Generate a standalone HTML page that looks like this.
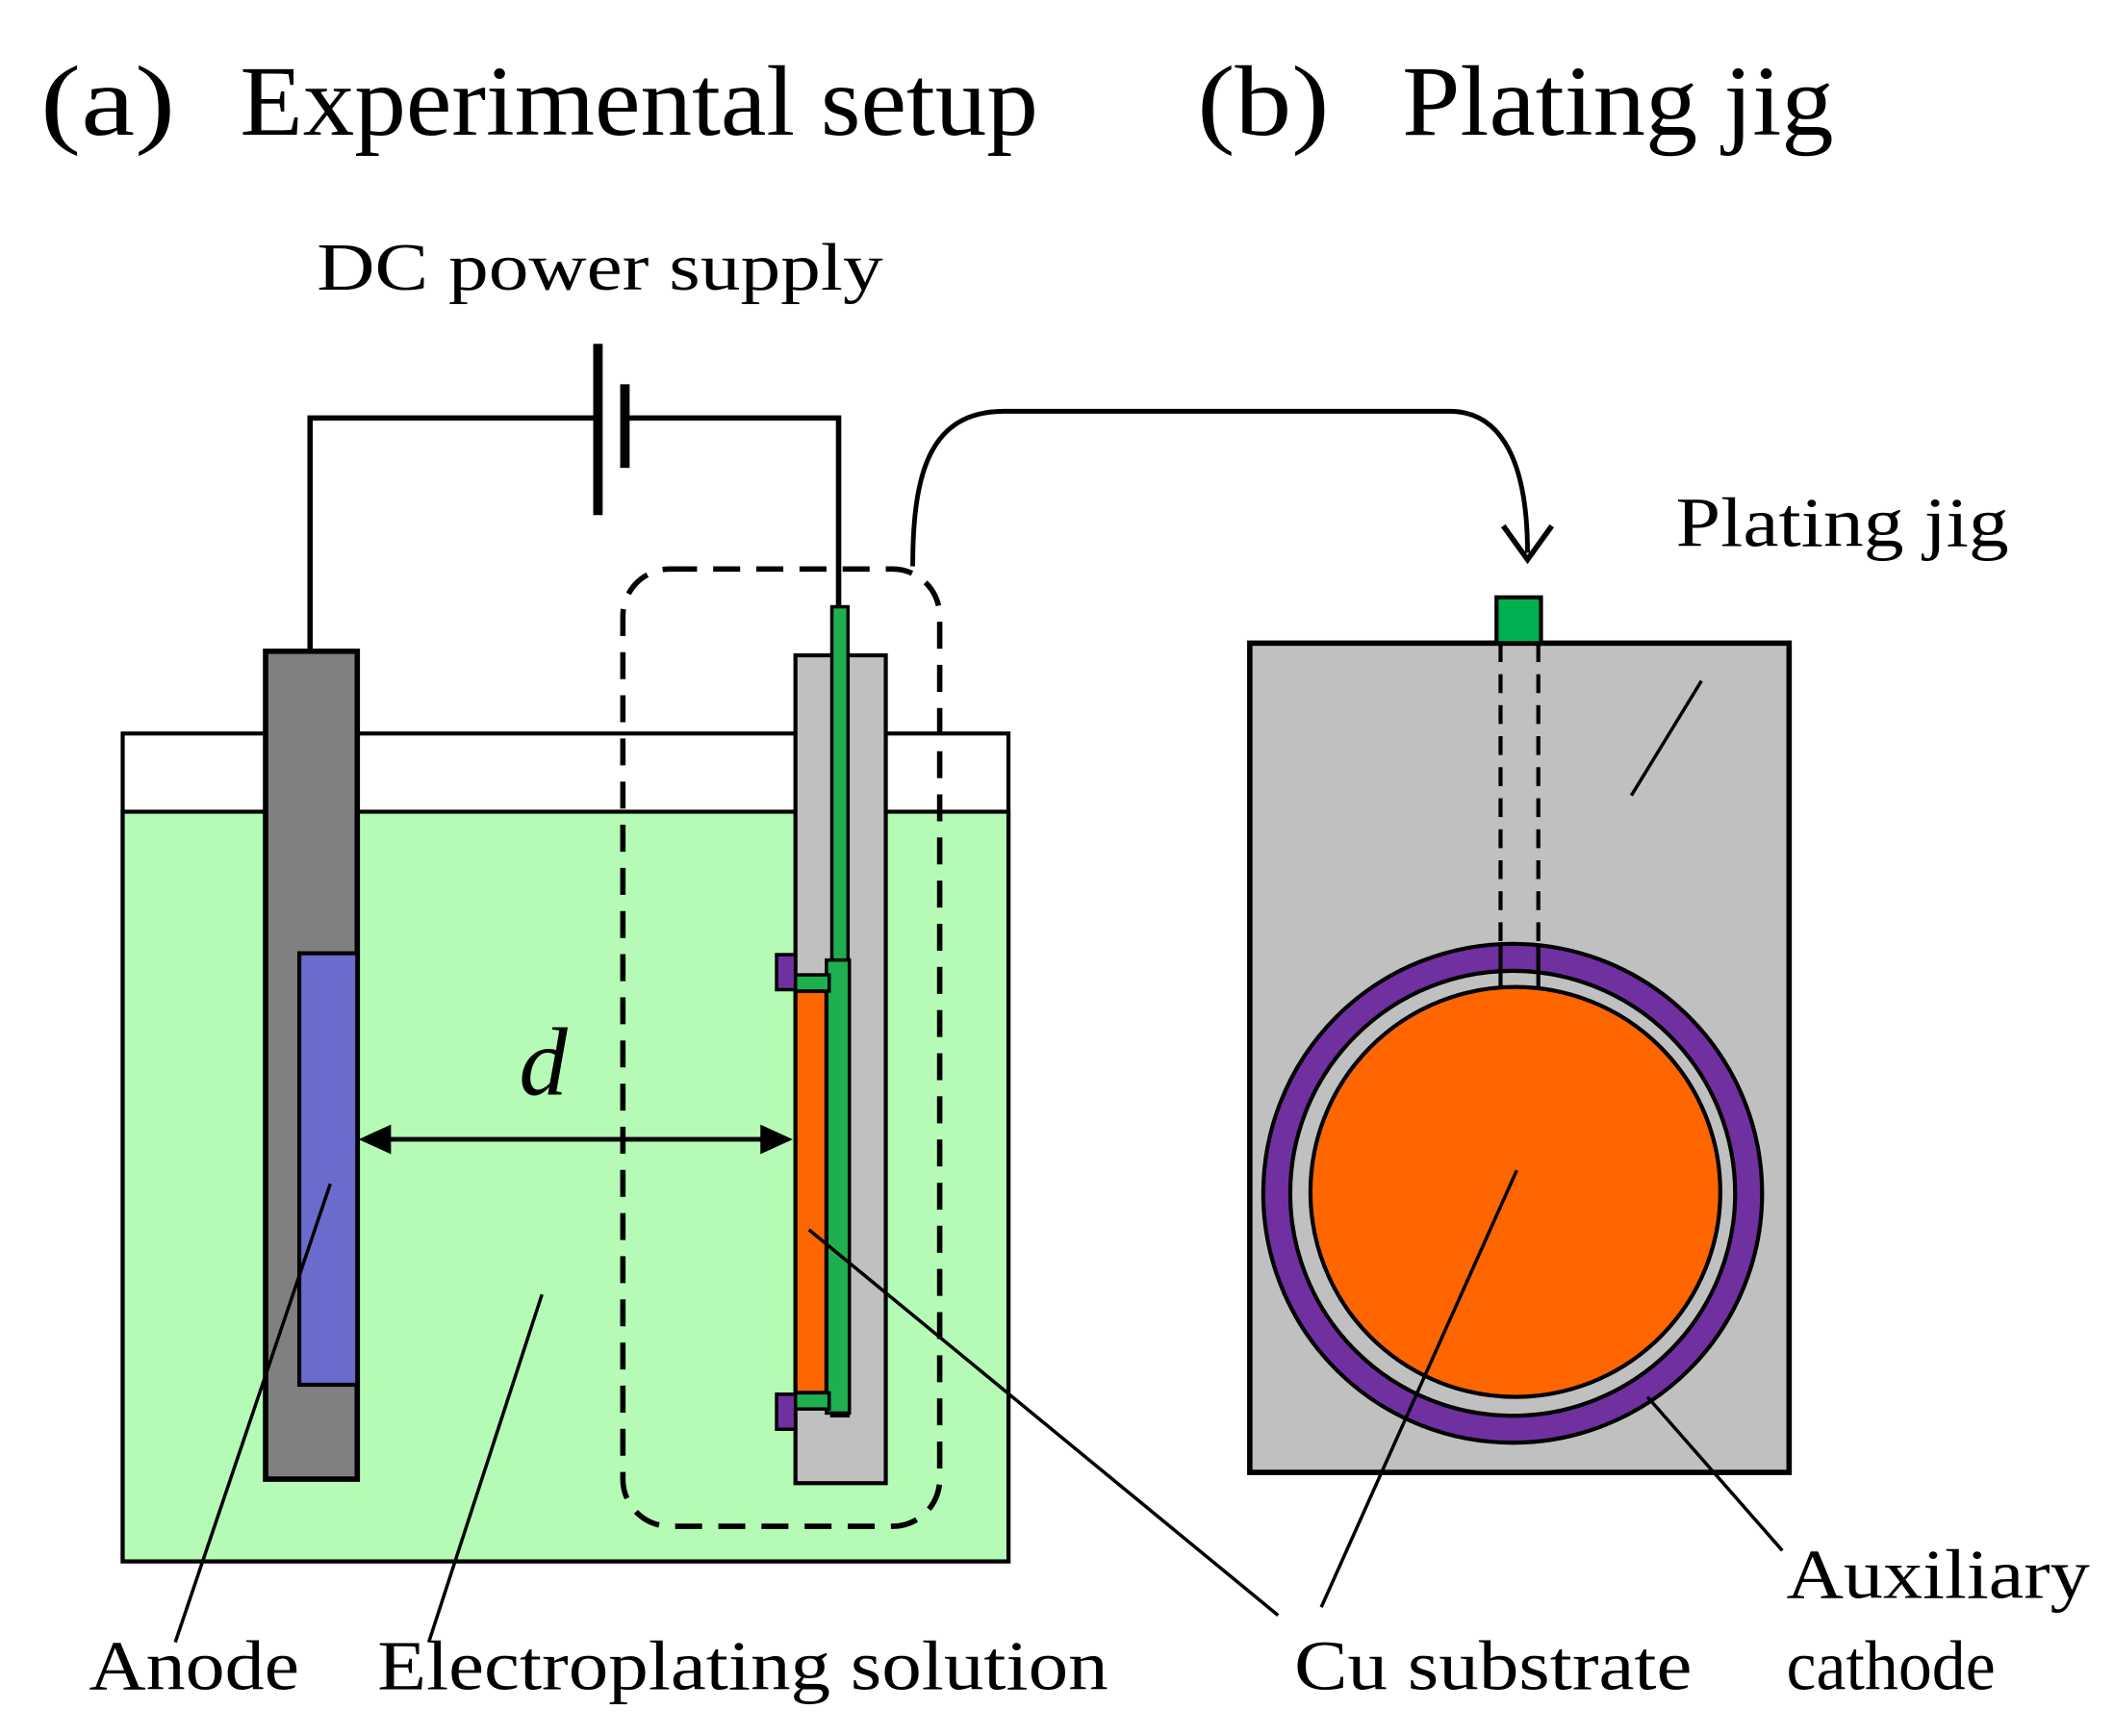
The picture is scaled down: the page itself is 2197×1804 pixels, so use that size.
<!DOCTYPE html>
<html><head><meta charset="utf-8"><style>html,body{margin:0;padding:0;background:#fff}svg{display:block}</style></head>
<body>
<svg width="2197" height="1804" viewBox="0 0 1568 1287.5" xmlns="http://www.w3.org/2000/svg" font-family="Liberation Serif, serif">
<rect width="1568" height="1288" fill="#fff"/>
<text x="30" y="100" font-size="74" textLength="100" lengthAdjust="spacingAndGlyphs">(a)</text>
<text x="178" y="100" font-size="74" textLength="592" lengthAdjust="spacingAndGlyphs">Experimental setup</text>
<text x="888" y="100" font-size="74" textLength="98" lengthAdjust="spacingAndGlyphs">(b)</text>
<text x="1040" y="100" font-size="74" textLength="320" lengthAdjust="spacingAndGlyphs">Plating jig</text>
<text x="235" y="215" font-size="50" textLength="420" lengthAdjust="spacingAndGlyphs">DC power supply</text>
<g stroke="#000" stroke-width="4" fill="none">
<polyline points="230,485 230,310 443,310"/>
<polyline points="463,310 622,310 622,452"/>
</g>
<rect x="440" y="255" width="7" height="127" fill="#000"/>
<rect x="460" y="285" width="7" height="62" fill="#000"/>
<rect x="91" y="544" width="657" height="614" fill="#fff" stroke="#000" stroke-width="3"/>
<rect x="91" y="602" width="657" height="556" fill="#b5fbb5" stroke="#000" stroke-width="3"/>
<rect x="197" y="483" width="68" height="614" fill="#808080" stroke="#000" stroke-width="4"/>
<rect x="222" y="707" width="43" height="320" fill="#6b6bcc" stroke="#000" stroke-width="3"/>
<rect x="590" y="486" width="67" height="614" fill="#c0c0c0" stroke="#000" stroke-width="3"/>
<rect x="617" y="450" width="12" height="600" fill="#1fae50" stroke="#000" stroke-width="2.5"/>
<rect x="613" y="712" width="17" height="336" fill="#1fae50" stroke="#000" stroke-width="2.5"/>
<rect x="590" y="735" width="23" height="298" fill="#ff6600" stroke="#000" stroke-width="3"/>
<rect x="590" y="723" width="25" height="12" fill="#1fae50" stroke="#000" stroke-width="2.5"/>
<rect x="590" y="1033" width="25" height="12" fill="#1fae50" stroke="#000" stroke-width="2.5"/>
<rect x="576" y="708" width="14" height="26" fill="#7030a0" stroke="#000" stroke-width="2.5"/>
<rect x="576" y="1034" width="14" height="26" fill="#7030a0" stroke="#000" stroke-width="2.5"/>
<line x1="280" y1="845" x2="574" y2="845" stroke="#000" stroke-width="3.5"/>
<polygon points="266,845 290,834 290,856" fill="#000"/>
<polygon points="588,845 564,834 564,856" fill="#000"/>
<text x="385" y="812" font-size="72" font-style="italic">d</text>
<rect x="462" y="422" width="235" height="710" rx="35" fill="none" stroke="#000" stroke-width="4" stroke-dasharray="20,12"/>
<path d="M677,420 C677,350 690,305 745,305 L1075,305 C1115,305 1133,345 1133,410" fill="none" stroke="#000" stroke-width="3.5"/>
<polyline points="1115,390 1133,415 1151,390" fill="none" stroke="#000" stroke-width="4"/>
<rect x="927" y="477" width="400" height="615" fill="#c0c0c0" stroke="#000" stroke-width="4"/>
<rect x="1110" y="443" width="33" height="34" fill="#00b050" stroke="#000" stroke-width="3"/>
<line x1="1113" y1="477" x2="1113" y2="712" stroke="#000" stroke-width="3" stroke-dasharray="14,9"/>
<line x1="1141" y1="477" x2="1141" y2="712" stroke="#000" stroke-width="3" stroke-dasharray="14,9"/>
<circle cx="1122" cy="885" r="185" fill="#7030a0" stroke="#000" stroke-width="3"/>
<circle cx="1122" cy="885" r="165" fill="#c0c0c0" stroke="#000" stroke-width="3"/>
<circle cx="1124" cy="884" r="152" fill="#ff6600" stroke="#000" stroke-width="3"/>
<line x1="1113" y1="700" x2="1113" y2="732" stroke="#000" stroke-width="3"/>
<line x1="1141" y1="700" x2="1141" y2="732" stroke="#000" stroke-width="3"/>
<text x="1243" y="405" font-size="52" textLength="247" lengthAdjust="spacingAndGlyphs">Plating jig</text>
<g stroke="#000" stroke-width="2.5">
<line x1="1262" y1="505" x2="1210" y2="590"/>
<line x1="130" y1="1218" x2="245" y2="878"/>
<line x1="318" y1="1218" x2="402" y2="960"/>
<line x1="948" y1="1198" x2="600" y2="912"/>
<line x1="980" y1="1192" x2="1125" y2="868"/>
<line x1="1322" y1="1150" x2="1222" y2="1036"/>
</g>
<text x="66" y="1253" font-size="52" textLength="156" lengthAdjust="spacingAndGlyphs">Anode</text>
<text x="280" y="1253" font-size="52" textLength="542" lengthAdjust="spacingAndGlyphs">Electroplating solution</text>
<text x="960" y="1253" font-size="52" textLength="295" lengthAdjust="spacingAndGlyphs">Cu substrate</text>
<text x="1325" y="1185" font-size="52" textLength="225" lengthAdjust="spacingAndGlyphs">Auxiliary</text>
<text x="1325" y="1253" font-size="52" textLength="155" lengthAdjust="spacingAndGlyphs">cathode</text>
</svg>
</body></html>
